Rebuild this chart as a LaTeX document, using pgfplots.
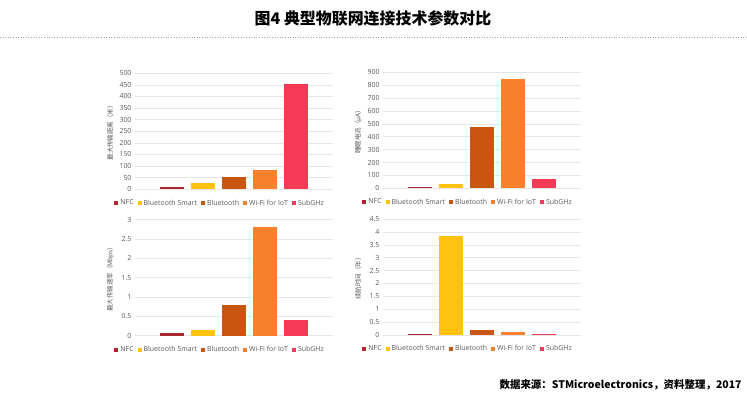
\documentclass[border=0pt]{standalone}
\usepackage{fontspec}
\setmainfont{Open Sans}
\newfontfamily\cjk{Noto Sans CJK SC}
\usepackage{pgfplots}
\pgfplotsset{compat=1.18}

\definecolor{nfc}{HTML}{A8272D}
\definecolor{bts}{HTML}{FFC20E}
\definecolor{btc}{HTML}{C9560F}
\definecolor{wifi}{HTML}{F7822E}
\definecolor{sub}{HTML}{F43A57}
\definecolor{gridc}{HTML}{E6E6E6}
\definecolor{tickc}{HTML}{595959}

\pgfplotsset{
  panel/.style={
    scale only axis, width=198bp, height=116bp,
    xmin=-1.21, xmax=5.21, ymin=0,
    xtick=\empty,
    axis line style={draw=none},
    major tick style={draw=none},
    ymajorgrids, grid style={draw=gridc, line width=0.5pt},
    /pgf/number format/assume math mode=true,
    yticklabel style={font=\fontsize{7}{8}\selectfont, text=tickc, /pgf/number format/fixed},
    ylabel style={font=\cjk\fontsize{6.5}{7}\selectfont, text=tickc,
      at={(axis description cs:-0.125,0.5)}, anchor=center},
    legend columns=5,
    legend style={draw=none, fill=none, font=\fontsize{7}{8}\selectfont, text=tickc,
      at={(0.43,-0.12)}, anchor=center,
      /tikz/every even column/.append style={column sep=2bp}},
    legend image code/.code={\fill[##1] (0bp,-2bp) rectangle (4bp,2bp);},
  },
  b/.style={ybar, bar width=24bp, fill=#1, draw=none},
}

\begin{document}
\begin{tikzpicture}
\path[use as bounding box] (0,0) rectangle (747bp,404bp);

\node[font=\cjk\bfseries\fontsize{16}{18}\selectfont] at (373bp,386bp) {图4 典型物联网连接技术参数对比};
\draw[gray!70, dotted, line width=0.6pt] (0,367bp) -- (747bp,367bp);

% max range
\begin{axis}[panel, at={(135bp,214.7bp)}, anchor=south west,
  ymax=500, ytick={0,50,...,500}, ylabel={最大传输距离（米）}]
  \addplot[b=nfc] coordinates {(0,12)}; \addlegendentry{NFC}
  \addplot[b=bts] coordinates {(1,27)}; \addlegendentry{Bluetooth Smart}
  \addplot[b=btc] coordinates {(2,53)}; \addlegendentry{Bluetooth}
  \addplot[b=wifi] coordinates {(3,82)}; \addlegendentry{Wi-Fi for IoT}
  \addplot[b=sub] coordinates {(4,454)}; \addlegendentry{SubGHz}
\end{axis}

% sleep current
\begin{axis}[panel, at={(383bp,215.7bp)}, anchor=south west,
  ymax=900, ytick={0,100,...,900}, ylabel={睡眠电流（μA）}]
  \addplot[b=nfc] coordinates {(0,13)}; \addlegendentry{NFC}
  \addplot[b=bts] coordinates {(1,35)}; \addlegendentry{Bluetooth Smart}
  \addplot[b=btc] coordinates {(2,475)}; \addlegendentry{Bluetooth}
  \addplot[b=wifi] coordinates {(3,848)}; \addlegendentry{Wi-Fi for IoT}
  \addplot[b=sub] coordinates {(4,75)}; \addlegendentry{SubGHz}
\end{axis}

% max data rate
\begin{axis}[panel, at={(135bp,68.3bp)}, anchor=south west,
  ymax=3, ytick={0,0.5,...,3}, ylabel={最大传输速率（Mbps）}]
  \addplot[b=nfc] coordinates {(0,0.06)}; \addlegendentry{NFC}
  \addplot[b=bts] coordinates {(1,0.14)}; \addlegendentry{Bluetooth Smart}
  \addplot[b=btc] coordinates {(2,0.8)}; \addlegendentry{Bluetooth}
  \addplot[b=wifi] coordinates {(3,2.8)}; \addlegendentry{Wi-Fi for IoT}
  \addplot[b=sub] coordinates {(4,0.4)}; \addlegendentry{SubGHz}
\end{axis}

% battery life
\begin{axis}[panel, at={(383bp,69bp)}, anchor=south west,
  ymax=4.5, ytick={0,0.5,...,4.5}, ylabel={续航时间（年）}]
  \addplot[b=nfc] coordinates {(0,0.03)}; \addlegendentry{NFC}
  \addplot[b=bts] coordinates {(1,3.85)}; \addlegendentry{Bluetooth Smart}
  \addplot[b=btc] coordinates {(2,0.2)}; \addlegendentry{Bluetooth}
  \addplot[b=wifi] coordinates {(3,0.12)}; \addlegendentry{Wi-Fi for IoT}
  \addplot[b=sub] coordinates {(4,0.05)}; \addlegendentry{SubGHz}
\end{axis}

\node[anchor=east, font=\cjk\bfseries\fontsize{10.5}{12}\selectfont] at (745bp,19bp) {数据来源：STMicroelectronics，资料整理，2017};
\end{tikzpicture}
\end{document}
